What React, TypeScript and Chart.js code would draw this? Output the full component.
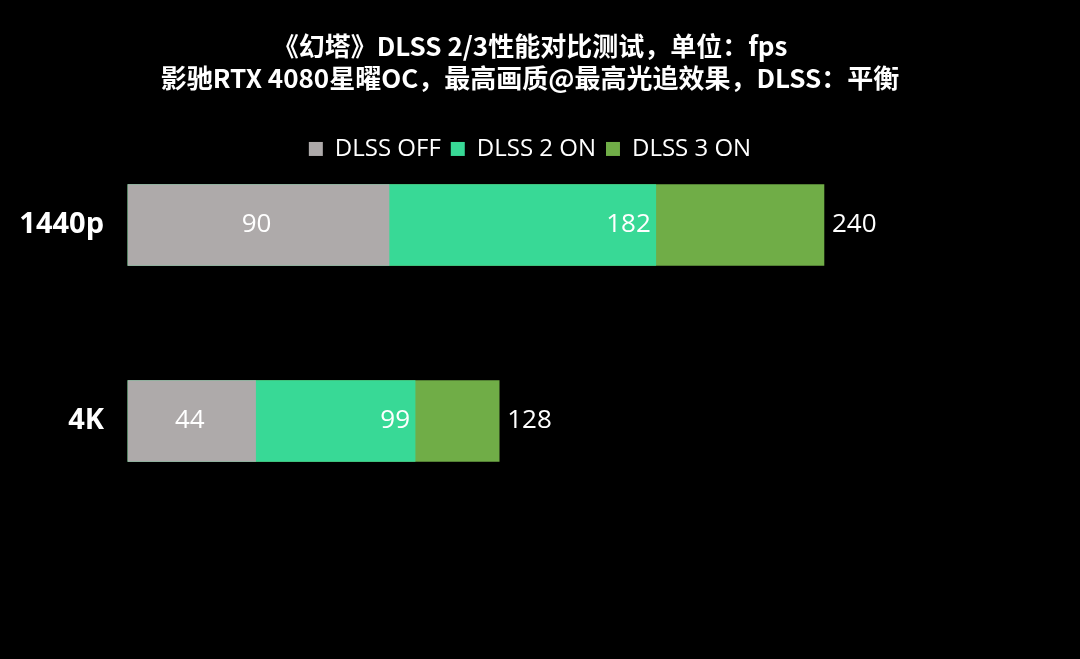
import { useEffect, useRef } from "react";
import { Chart, registerables } from "chart.js";

Chart.register(...registerables);

const categories = ["1440p", "4K"];
const seriesNames = ["DLSS OFF", "DLSS 2 ON", "DLSS 3 ON"];
const dlssOff = [90, 44];
const dlss2 = [182, 99];
const dlss3 = [240, 128];
const colors = ["#AEAAAA", "#38D996", "#70AD47"];
const titleLines = [
  "《幻塔》DLSS 2/3性能对比测试，单位：fps",
  "影驰RTX 4080星曜OC，最高画质@最高光追效果，DLSS：平衡",
];

const valueLabels = {
  id: "valueLabels",
  afterDatasetsDraw(chart: Chart) {
    const ctx = chart.ctx;
    ctx.save();
    ctx.font = "26px 'Open Sans'";
    ctx.fillStyle = "#ffffff";
    ctx.textBaseline = "middle";
    chart.data.datasets.forEach((ds, di) => {
      const meta = chart.getDatasetMeta(di);
      meta.data.forEach((bar: any, i) => {
        const v = ds.data[i] as number;
        const { x, y, base } = bar.getProps(["x", "y", "base"], true);
        if (di === 0) {
          ctx.textAlign = "center";
          ctx.fillText(String(v), (x + base) / 2 - 2, y);
        } else if (di === 1) {
          ctx.textAlign = "right";
          ctx.fillText(String(v), x - 5, y);
        } else {
          ctx.textAlign = "left";
          ctx.fillText(String(v), x + 8, y);
        }
      });
    });
    ctx.restore();
  },
};

const App = () => {
  const canvasRef = useRef<HTMLCanvasElement | null>(null);

  useEffect(() => {
    if (!canvasRef.current) return;
    const series = [dlssOff, dlss2, dlss3];
    const chart = new Chart(canvasRef.current, {
      type: "bar",
      data: {
        labels: categories,
        datasets: series.map((data, i) => ({
          label: seriesNames[i],
          data,
          backgroundColor: colors[i],
          borderWidth: 0,
          barThickness: 81,
          clip: false as any,
        })),
      },
      options: {
        indexAxis: "y",
        animation: false,
        responsive: true,
        maintainAspectRatio: false,
        layout: { padding: { left: 0, right: 20, top: 0, bottom: 238 } },
        scales: {
          x: {
            position: "top",
            min: 0,
            max: 321.4,
            stacked: false,
            grid: { display: false },
            border: { display: false },
            ticks: { display: false },
            afterFit: (scale) => {
              scale.height = 54;
            },
          },
          y: {
            stacked: true,
            offset: false,
            grid: { display: false, drawTicks: false },
            border: { display: false },
            ticks: {
              color: "#ffffff",
              padding: 24,
              font: { family: "'Open Sans'", size: 29, weight: "bold" },
            },
            afterFit: (scale) => {
              scale.width = 128;
            },
          },
        },
        plugins: {
          title: {
            display: true,
            text: titleLines,
            color: "#ffffff",
            font: { family: "'Noto Sans CJK SC'", size: 26, weight: "bold", lineHeight: 1.23 },
            padding: { top: 30, bottom: 33 },
          },
          legend: {
            display: true,
            labels: {
              color: "#ffffff",
              boxWidth: 14,
              boxHeight: 14,
              padding: 10,
              font: { family: "'Open Sans'", size: 24 },
            },
          },
          tooltip: { enabled: false },
        },
      },
      plugins: [valueLabels],
    });
    return () => {
      chart.destroy();
    };
  }, []);

  return (
    <div style={{ position: "fixed", left: 0, top: 0, width: 1080, height: 659, background: "#000000" }}>
      <canvas ref={canvasRef} />
    </div>
  );
};

export default App;
